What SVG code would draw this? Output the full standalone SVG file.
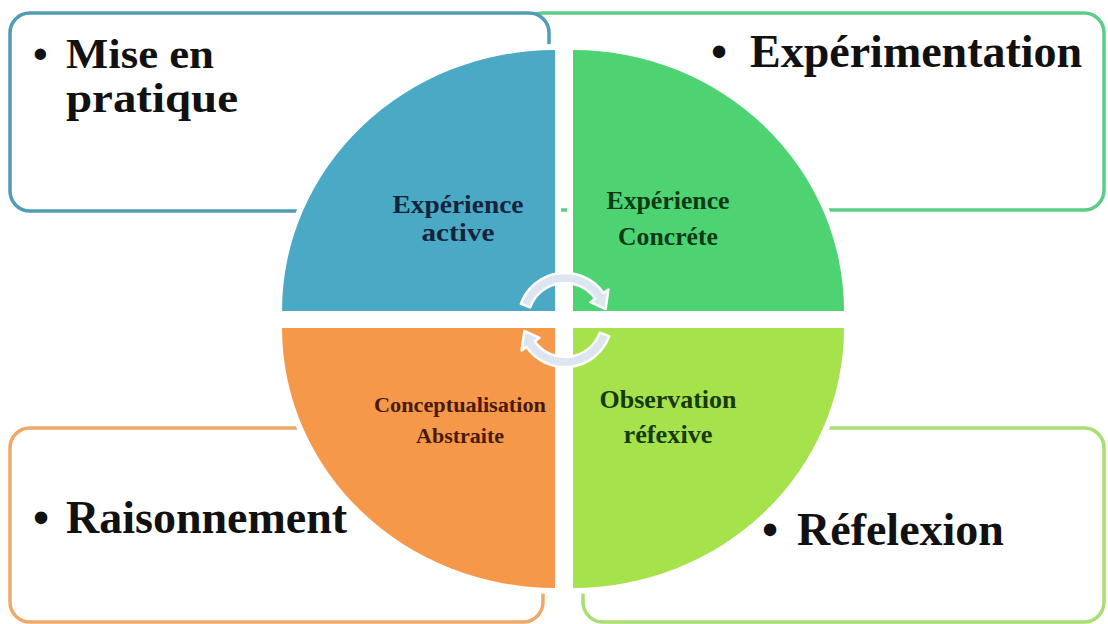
<svg xmlns="http://www.w3.org/2000/svg" width="1108" height="624" viewBox="0 0 1108 624">
  <style>
    .box { fill: #ffffff; stroke-width: 3.5; }
    .q { stroke: #ffffff; stroke-width: 12; paint-order: stroke; stroke-linejoin: miter; }
    .big { font-family: "Liberation Serif", "Times New Roman", serif; font-weight: bold; font-size: 46px; fill: #111111; }
    .lbl { font-family: "Liberation Serif", "Times New Roman", serif; font-weight: bold; font-size: 25px; text-anchor: middle; }
    .arc { fill: #dde5f0; stroke: #ffffff; stroke-width: 2.5; stroke-linejoin: round; }
  </style>
  <rect width="1108" height="624" fill="#ffffff"/>

  <g id="box-experimentation">
    <rect class="box" x="522" y="13" width="582" height="197" rx="20" stroke="#5ccd88"/>
  </g>
  <g id="box-mise-en-pratique">
    <rect class="box" x="10" y="13" width="539" height="198" rx="20" stroke="#4f9db4"/>
  </g>
  <g id="box-raisonnement">
    <rect class="box" x="10" y="428" width="533" height="194" rx="20" stroke="#eea86a"/>
  </g>
  <g id="box-refelexion">
    <rect class="box" x="583" y="428" width="521" height="194" rx="20" stroke="#a9de72"/>
  </g>

  <g id="q-experience-active">
    <path class="q" fill="#4aaac6" d="M555,311 L282,311 A273,261 0 0 1 555,50 Z"/>
  </g>
  <g id="q-experience-concrete">
    <path class="q" fill="#4ed373" d="M573,311 L573,50 A271,261 0 0 1 844,311 Z"/>
  </g>
  <g id="q-conceptualisation">
    <path class="q" fill="#f5984a" d="M555,328 L555,588 A273,260 0 0 1 282,328 Z"/>
  </g>
  <g id="q-observation">
    <path class="q" fill="#a6e24c" d="M573,328 L844,328 A271,260 0 0 1 573,588 Z"/>
  </g>

  <g id="connectors">
    <path class="arc" d="M520.8,303.9 A47,47 0 0 1 603.5,293.0 L608.4,289.6 L605.6,309.1 L590.4,302.2 L595.3,298.8 A37,37 0 0 0 530.2,307.3 Z"/>
    <path class="arc" d="M609.2,336.1 A47,47 0 0 1 526.5,347.0 L521.6,350.4 L524.4,330.9 L539.6,337.8 L534.7,341.2 A37,37 0 0 0 599.8,332.7 Z"/>
  </g>

  <g id="labels-quadrants">
    <text class="lbl" fill="#15243c"><tspan x="458" y="213" textLength="131" lengthAdjust="spacingAndGlyphs">Expérience</tspan><tspan x="458" y="241" textLength="73" lengthAdjust="spacingAndGlyphs">active</tspan></text>
    <text class="lbl" fill="#0b3a15"><tspan x="668" y="209" textLength="123" lengthAdjust="spacingAndGlyphs">Expérience</tspan><tspan x="668" y="245" textLength="100" lengthAdjust="spacingAndGlyphs">Concréte</tspan></text>
    <text class="lbl" fill="#4a1a08" style="font-size:21px"><tspan x="460" y="412" textLength="172" lengthAdjust="spacingAndGlyphs">Conceptualisation</tspan><tspan x="460" y="443" textLength="88" lengthAdjust="spacingAndGlyphs">Abstraite</tspan></text>
    <text class="lbl" fill="#163a0c"><tspan x="668" y="408" textLength="137" lengthAdjust="spacingAndGlyphs">Observation</tspan><tspan x="668" y="443" textLength="89" lengthAdjust="spacingAndGlyphs">réfexive</tspan></text>
  </g>

  <g id="labels-boxes">
    <text class="big" style="font-size:42px"><tspan x="33" y="68">•</tspan><tspan x="66" y="68" textLength="148" lengthAdjust="spacingAndGlyphs">Mise en</tspan></text>
    <text class="big" style="font-size:42px" x="66" y="112" textLength="172" lengthAdjust="spacingAndGlyphs">pratique</text>
    <text class="big"><tspan x="711" y="67">•</tspan><tspan x="750" y="67">Expérimentation</tspan></text>
    <text class="big"><tspan x="33" y="533">•</tspan><tspan x="66" y="533">Raisonnement</tspan></text>
    <text class="big"><tspan x="762" y="545">•</tspan><tspan x="797" y="545">Réfelexion</tspan></text>
  </g>
</svg>
